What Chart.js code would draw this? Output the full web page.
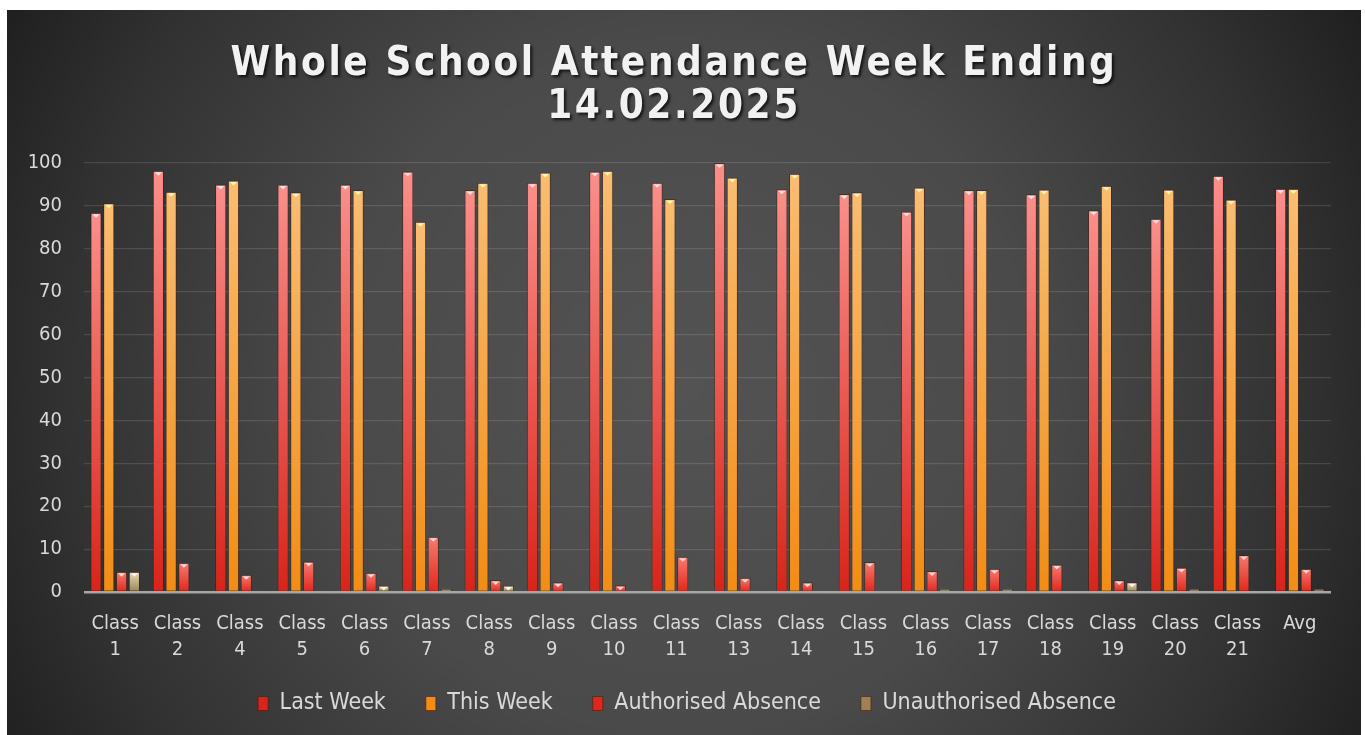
<!DOCTYPE html>
<html>
<head>
<meta charset="utf-8">
<script src="https://cdn.jsdelivr.net/npm/chart.js@4.4.1/dist/chart.umd.min.js"></script>
<style>
  html, body { margin: 0; padding: 0; background: #ffffff; }
  #wrap { position: absolute; left: 7px; top: 10px; width: 1354px; height: 725px; }
</style>
</head>
<body>
<div id="wrap"><canvas id="c"></canvas></div>
<script>
// ---- data ----
const categories = ['Class 1','Class 2','Class 4','Class 5','Class 6','Class 7','Class 8','Class 9','Class 10','Class 11','Class 13','Class 14','Class 15','Class 16','Class 17','Class 18','Class 19','Class 20','Class 21','Avg'];
const lastWeek = [88.4, 98.2, 95.0, 95.0, 95.0, 98.0, 93.7, 95.4, 98.0, 95.4, 100, 93.9, 92.8, 88.7, 93.7, 92.7, 89.0, 87.0, 97.0, 94.0];
const thisWeek = [90.6, 93.3, 95.9, 93.2, 93.7, 86.3, 95.4, 97.8, 98.2, 91.6, 96.6, 97.5, 93.2, 94.3, 93.7, 93.8, 94.7, 93.8, 91.5, 94.0];
const authorised = [4.7, 6.8, 4.0, 7.1, 4.5, 12.9, 2.8, 2.3, 1.6, 8.2, 3.3, 2.3, 7.0, 4.9, 5.4, 6.4, 2.8, 5.7, 8.6, 5.4];
const unauthorised = [4.7, 0, 0, 0, 1.5, 0.7, 1.5, 0, 0, 0, 0, 0, 0, 0.7, 0.7, 0, 2.3, 0.7, 0, 0.7];
const seriesNames = ['Last Week', 'This Week', 'Authorised Absence', 'Unauthorised Absence'];
const titleLines = ['Whole School Attendance Week Ending', '14.02.2025'];
const yTicks = { min: 0, max: 100, step: 10 };

const FONT = "'DejaVu Sans Condensed', 'Liberation Sans Narrow', 'DejaVu Sans', sans-serif";

function barFill(top, bottom, flat) {
  return (c) => {
    if (c.type !== 'data') return flat;
    const chart = c.chart;
    const ys = chart.scales.y;
    if (!ys || !chart.chartArea) return flat;
    const v = c.raw || 0;
    const y0 = ys.getPixelForValue(0), y1 = ys.getPixelForValue(v);
    if (!isFinite(y0) || !isFinite(y1) || Math.abs(y0 - y1) < 0.5) return flat;
    const g = chart.ctx.createLinearGradient(0, y1, 0, y0);
    g.addColorStop(0, top);
    g.addColorStop(1, bottom);
    return g;
  };
}

const bevelColors = ['rgba(255,225,225,0.95)', 'rgba(255,245,170,0.95)', 'rgba(255,220,215,0.95)', 'rgba(255,250,230,0.95)'];

const bgPlugin = {
  id: 'bg',
  afterInit(chart) {
    const tb = chart.titleBlock;
    if (tb) {
      const orig = Object.getPrototypeOf(tb).draw;
      tb.draw = function (area) {
        const ctx = this.ctx;
        ctx.save();
        try { ctx.letterSpacing = '2.6px'; } catch (e) {}
        ctx.translate(5, 0);
        ctx.shadowColor = 'rgba(0,0,0,0.75)';
        ctx.shadowOffsetX = 2;
        ctx.shadowOffsetY = 2;
        ctx.shadowBlur = 3;
        orig.call(this, area);
        ctx.restore();
      };
    }
    const lg = chart.legend;
    if (lg) {
      const proto = Object.getPrototypeOf(lg);
      lg.fit = function () { proto.fit.call(this); this.height = 49; };
      lg.draw = function () {
        const ctx = this.ctx;
        const t = this.top, h = this.height;
        this.top = t - 20;
        this.height = this.bottom - this.top;
        ctx.save();
        ctx.translate(18, 0);
        proto.draw.call(this);
        ctx.restore();
        this.top = t;
        this.height = h;
      };
    }
  },
  beforeDraw(chart) {
    const { ctx, width, height } = chart;
    ctx.save();
    const cx = width * 0.5, cy = height * 0.52;
    const g = ctx.createRadialGradient(cx, cy, 0, cx, cy, 770);
    g.addColorStop(0, '#535353');
    g.addColorStop(0.45, '#4a4a4a');
    g.addColorStop(0.8, '#323232');
    g.addColorStop(1, '#202020');
    ctx.fillStyle = g;
    ctx.fillRect(0, 0, width, height);
    ctx.restore();
  },
  afterDatasetsDraw(chart) {
    const ctx = chart.ctx;
    ctx.save();
    chart.data.datasets.forEach((ds, di) => {
      const meta = chart.getDatasetMeta(di);
      if (meta.hidden) return;
      meta.data.forEach((el) => {
        const h = el.base - el.y;
        if (h < 5) return;
        const w = el.width;
        ctx.fillStyle = bevelColors[di];
        ctx.beginPath();
        ctx.moveTo(el.x - w * 0.32, el.y + 1.5);
        ctx.lineTo(el.x + w * 0.32, el.y + 1.5);
        ctx.lineTo(el.x, el.y + 5);
        ctx.closePath();
        ctx.fill();
      });
    });
    ctx.restore();
  }
};

const fills = [
  ['#fb8f8b', '#d8241a', '#e2463e'],
  ['#f9bd72', '#f28c14', '#f0a040'],
  ['#f77a70', '#e3261b', '#e53a30'],
  ['#e8dbb8', '#9c8254', '#b39d72']
];
const seriesData = [lastWeek, thisWeek, authorised, unauthorised];

new Chart(document.getElementById('c'), {
  type: 'bar',
  data: {
    labels: categories.map(s => s.includes(' ') ? s.split(' ') : s),
    datasets: seriesData.map((d, i) => ({
      label: seriesNames[i],
      data: d,
      backgroundColor: barFill(fills[i][0], fills[i][1], fills[i][2]),
      borderColor: 'rgba(70,25,10,0.55)',
      borderWidth: (c) => (c.type === 'data' && !c.raw) ? 0 : 1,
      categoryPercentage: 0.82,
      barPercentage: 0.88
    }))
  },
  options: {
    responsive: true,
    maintainAspectRatio: false,
    animation: false,
    devicePixelRatio: 1,
    layout: { padding: { left: 0, right: 30, top: 0, bottom: 14 } },
    plugins: {
      title: {
        display: true,
        text: titleLines,
        color: '#f2f2f2',
        font: { family: FONT, size: 40, weight: 'bold', lineHeight: 43 / 40 },
        padding: { top: 33, bottom: 34 }
      },
      legend: {
        position: 'bottom',
        labels: {
          color: '#d9d9d9',
          font: { family: FONT, size: 23 },
          boxWidth: 10,
          boxHeight: 14,
          padding: 40
        }
      },
      tooltip: { enabled: false }
    },
    scales: {
      x: {
        grid: { display: false, drawTicks: false },
        border: { display: false },
        ticks: {
          color: '#d9d9d9',
          font: { family: FONT, size: 20, lineHeight: 1.3 },
          padding: 19,
          maxRotation: 0,
          autoSkip: false
        },
        afterFit(scale) { scale.height = 80; }
      },
      y: {
        min: yTicks.min,
        max: yTicks.max,
        border: { display: false },
        grid: {
          drawTicks: false,
          color: (c) => c.tick && c.tick.value === 0 ? '#a6a6a6' : 'rgba(255,255,255,0.12)',
          lineWidth: (c) => c.tick && c.tick.value === 0 ? 2.5 : 1.2
        },
        ticks: {
          stepSize: yTicks.step,
          color: '#d9d9d9',
          font: { family: FONT, size: 20 },
          padding: 22
        },
        afterFit(scale) { scale.width = 77; }
      }
    }
  },
  plugins: [bgPlugin]
});
</script>
</body>
</html>
